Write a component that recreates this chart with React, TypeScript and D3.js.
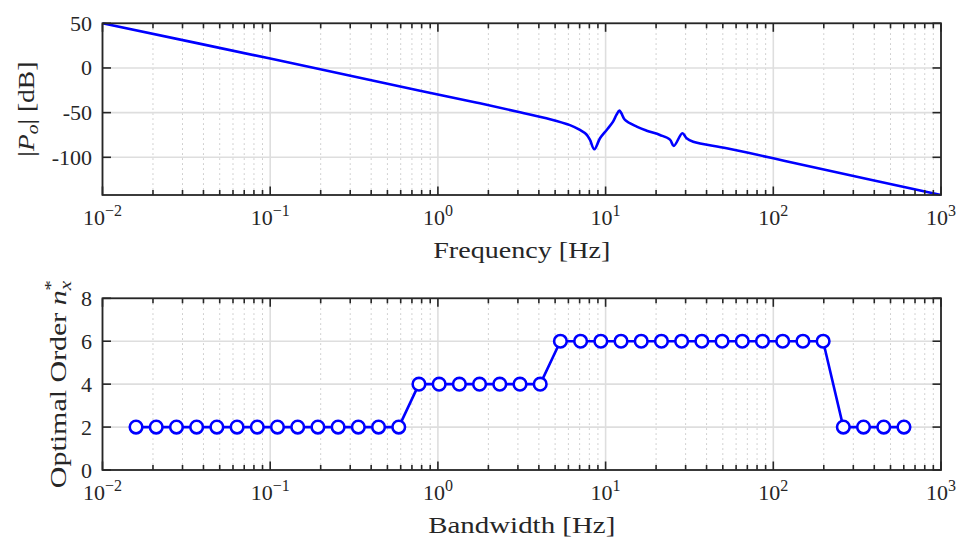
import React from "react";
import * as d3 from "d3";

const FREQ = [0.01, 0.1, 0.782, 1.78, 3.09, 4.66, 6.13, 7.03, 7.69, 8.07, 8.57, 9.26, 10.15, 11.08, 11.6, 12.07, 12.4, 13.05, 15.33, 17.59, 21.1, 24.2, 25.5, 28.7, 30.4, 33.3, 52.7, 100, 144, 1000];
const MAG = [50, 10.5, -25.4, -39.5, -49.6, -57.3, -64.0, -69.4, -74.5, -80.6, -91.0, -78.7, -69.4, -60.1, -52.6, -47.8, -50.5, -58.2, -65.7, -70.2, -75.0, -80.2, -87.3, -73.1, -78.7, -82.5, -89.9, -101.1, -107.8, -142.2];

const BANDWIDTH = [0.01585, 0.02091, 0.02761, 0.03642, 0.04808, 0.06345, 0.08375, 0.1105, 0.1459, 0.1925, 0.2541, 0.3353, 0.4426, 0.5841, 0.7709, 1.0174, 1.343, 1.772, 2.339, 3.087, 4.074, 5.377, 7.096, 9.366, 12.36, 16.31, 21.53, 28.41, 37.5, 49.49, 65.31, 86.2, 113.8, 150.2, 198.2, 261.6, 345.1, 455.6, 601.2];
const ORDER = [2, 2, 2, 2, 2, 2, 2, 2, 2, 2, 2, 2, 2, 2, 4, 4, 4, 4, 4, 4, 4, 6, 6, 6, 6, 6, 6, 6, 6, 6, 6, 6, 6, 6, 6, 2, 2, 2, 2];

const X_TICKS = [1e-2, 1e-1, 1, 10, 100, 1000];
const X_TICK_EXP = ["\u22122", "\u22121", "0", "1", "2", "3"];
const MAG_TICKS = [-100, -50, 0, 50];
const ORDER_TICKS = [0, 2, 4, 6, 8];

const FONT = "Liberation Serif, DejaVu Serif, serif";
const AX = "#262626";
const BLUE = "#0000ff";
const L = 102.5, R = 941;
const T1 = 23.3, B1 = 195;
const T2 = 298.3, B2 = 470;

const minorTicks: number[] = [];
for (let e = -2; e < 3; e++) for (let k = 2; k <= 9; k++) minorTicks.push(k * Math.pow(10, e));

function Axes({ top, bottom, yScale, yTicks, children, yLabel, yLabelX, xLabel, xLabelLen, yLabelLen }: any) {
  const x = d3.scaleLog().domain([1e-2, 1e3]).range([L, R]);
  const clipId = "clip" + Math.round(top);
  return (
    <g>
      <defs>
        <clipPath id={clipId}>
          <rect x={L - 1} y={top - 1} width={R - L + 2} height={bottom - top + 2} />
        </clipPath>
      </defs>
      {minorTicks.map((t, i) => (
        <line key={"mg" + i} x1={x(t)} x2={x(t)} y1={top} y2={bottom} stroke="#c4c4c4" strokeWidth={1} strokeDasharray="1.5,3.5" />
      ))}
      {X_TICKS.map((t, i) => (
        <line key={"gx" + i} x1={x(t)} x2={x(t)} y1={top} y2={bottom} stroke="#dedede" strokeWidth={1.6} />
      ))}
      {yTicks.map((t: number, i: number) => (
        <line key={"gy" + i} x1={L} x2={R} y1={yScale(t)} y2={yScale(t)} stroke="#dedede" strokeWidth={1.6} />
      ))}
      <g clipPath={`url(#${clipId})`}>{children(x)}</g>
      {minorTicks.map((t, i) => (
        <g key={"mt" + i}>
          <line x1={x(t)} x2={x(t)} y1={bottom} y2={bottom - 5} stroke={AX} strokeWidth={1.6} />
          <line x1={x(t)} x2={x(t)} y1={top} y2={top + 5} stroke={AX} strokeWidth={1.6} />
        </g>
      ))}
      {X_TICKS.map((t, i) => (
        <g key={"xt" + i}>
          <line x1={x(t)} x2={x(t)} y1={bottom} y2={bottom - 8.5} stroke={AX} strokeWidth={1.6} />
          <line x1={x(t)} x2={x(t)} y1={top} y2={top + 8.5} stroke={AX} strokeWidth={1.6} />
          <text x={x(t)} y={bottom + 30} textAnchor="middle" fontFamily={FONT} fontSize={22} fill={AX}>
            10<tspan fontSize={16} dy={-9}>{X_TICK_EXP[i]}</tspan>
          </text>
        </g>
      ))}
      {yTicks.map((t: number, i: number) => (
        <g key={"yt" + i}>
          <line x1={L} x2={L + 8.5} y1={yScale(t)} y2={yScale(t)} stroke={AX} strokeWidth={1.6} />
          <line x1={R} x2={R - 8.5} y1={yScale(t)} y2={yScale(t)} stroke={AX} strokeWidth={1.6} />
          <text x={92} y={yScale(t) + 7.5} textAnchor="end" fontFamily={FONT} fontSize={22} fill={AX}>
            {t}
          </text>
        </g>
      ))}
      <rect x={L} y={top} width={R - L} height={bottom - top} fill="none" stroke={AX} strokeWidth={1.8} />
      <text x={(L + R) / 2} y={bottom + 63} textAnchor="middle" fontFamily={FONT} fontSize={23.5} fill={AX} textLength={xLabelLen} lengthAdjust="spacingAndGlyphs">
        {xLabel}
      </text>
      <text transform={`translate(${yLabelX},${(top + bottom) / 2}) rotate(-90)`} textAnchor="middle" fontFamily={FONT} fontSize={24} fill={AX} textLength={yLabelLen} lengthAdjust="spacingAndGlyphs">
        {yLabel}
      </text>
    </g>
  );
}

export default function App() {
  const y1 = d3.scaleLinear().domain([-142.2, 50]).range([B1, T1]);
  const y2 = d3.scaleLinear().domain([0, 8]).range([B2, T2]);
  return (
    <div style={{ position: "fixed", left: 0, top: 0 }}>
      <svg width={960} height={540} style={{ display: "block", background: "#fff" }}>
        <Axes
          top={T1}
          bottom={B1}
          yScale={y1}
          yTicks={MAG_TICKS}
          yLabelX={34}
          xLabel="Frequency [Hz]"
          xLabelLen={177}
          yLabelLen={95}
          yLabel={
            <>
              |<tspan fontStyle="italic">P</tspan>
              <tspan fontStyle="italic" fontSize={17} dy={4}>o</tspan>
              <tspan dy={-4}>|</tspan> [dB]
            </>
          }
        >
          {(x: any) => {
            const line = d3
              .line<number>()
              .x((_, i) => x(FREQ[i]))
              .y((d) => y1(d))
              .curve(d3.curveCatmullRom.alpha(0.5));
            return <path d={line(MAG) || ""} fill="none" stroke={BLUE} strokeWidth={2.6} strokeLinejoin="round" />;
          }}
        </Axes>
        <Axes
          top={T2}
          bottom={B2}
          yScale={y2}
          yTicks={ORDER_TICKS}
          yLabelX={66}
          xLabel="Bandwidth [Hz]"
          xLabelLen={187}
          yLabelLen={208}
          yLabel={
            <>
              Optimal Order <tspan fontStyle="italic">n</tspan>
              <tspan fontStyle="italic" fontSize={17} dy={5}>x</tspan>
              <tspan fontSize={17} dx={-8} dy={-15}>*</tspan>
            </>
          }
        >
          {(x: any) => {
            const line = d3
              .line<number>()
              .x((_, i) => x(BANDWIDTH[i]))
              .y((d) => y2(d));
            return (
              <g>
                <path d={line(ORDER) || ""} fill="none" stroke={BLUE} strokeWidth={2.6} />
                {ORDER.map((d, i) => (
                  <circle key={i} cx={x(BANDWIDTH[i])} cy={y2(d)} r={6.3} fill="#fff" stroke={BLUE} strokeWidth={2.6} />
                ))}
              </g>
            );
          }}
        </Axes>
      </svg>
    </div>
  );
}
